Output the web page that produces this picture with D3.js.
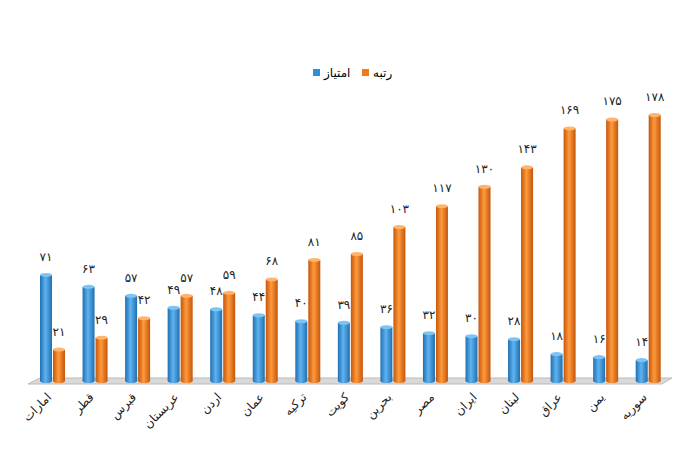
<!DOCTYPE html><html><head><meta charset="utf-8"><script src="https://cdn.jsdelivr.net/npm/d3@7"></script>
<style>body{margin:0;background:#fff}</style></head><body><svg id="c" width="700" height="450"></svg>
<script>
const categories=["امارات","قطر","قبرس","عربستان","اردن","عمان","ترکیه","کویت","بحرین","مصر","ایران","لبنان","عراق","یمن","سوریه"];
const score=[71,63,57,49,48,44,40,39,36,32,30,28,18,16,14];
const rank=[21,29,42,57,59,68,81,85,103,117,130,143,169,175,178];
const seriesNames=["امتیاز","رتبه"];
const fa=n=>String(n).replace(/\d/g,d=>"۰۱۲۳۴۵۶۷۸۹"[d]);
const svg=d3.select("#c");
const defs=svg.append("defs");
[["b","#1f6fb0","#5fb3f0"],["o","#c4560a","#ff9a3c"]].forEach(([id,d,l])=>{
 const g=defs.append("linearGradient").attr("id",id);
 g.append("stop").attr("offset","0").attr("stop-color",d);
 g.append("stop").attr("offset","0.45").attr("stop-color",l);
 g.append("stop").attr("offset","1").attr("stop-color",d);});
const x=d3.scaleBand().domain(categories).range([34,668]).paddingInner(0.1);
const y=d3.scaleLinear().domain([0,178]).range([381,115]);
// floor
svg.append("path").attr("d",`M28,384 L662,384 L672,378 L40,378 Z`).attr("fill","#d9d9d9").attr("stroke","#bbb");
const bw=12;
const draw=(vals,off,grad,top)=>{
 const g=svg.append("g");
 categories.forEach((c,i)=>{
  const cx=x(c)+off, yv=y(vals[i]);
  g.append("rect").attr("x",cx).attr("y",yv).attr("width",bw).attr("height",381-yv).attr("fill",`url(#${grad})`);
  g.append("ellipse").attr("cx",cx+bw/2).attr("cy",381).attr("rx",bw/2).attr("ry",2).attr("fill",`url(#${grad})`);
  g.append("ellipse").attr("cx",cx+bw/2).attr("cy",yv).attr("rx",bw/2).attr("ry",2).attr("fill",top);
  g.append("text").attr("x",cx+bw/2).attr("y",yv-14).attr("text-anchor","middle").attr("font-family","DejaVu Sans").attr("font-size",12).attr("fill","#222").text(fa(vals[i]));
 });};
draw(score,6,"b","#7cc4f5");
draw(rank,19,"o","#ffb36b");
categories.forEach(c=>{
 const cx=x(c)+18;
 svg.append("text").attr("transform",`translate(${cx},398) rotate(-45)`).attr("text-anchor","end").attr("font-family","DejaVu Sans").attr("font-size",12).attr("fill","#222").text(c);
});
// legend
const lg=svg.append("g").attr("font-family","DejaVu Sans").attr("font-size",12);
lg.append("rect").attr("x",313).attr("y",69).attr("width",7).attr("height",7).attr("fill","#2e8fdb");
lg.append("text").attr("x",324).attr("y",77).text(seriesNames[0]);
lg.append("rect").attr("x",362).attr("y",69).attr("width",7).attr("height",7).attr("fill","#f07a1a");
lg.append("text").attr("x",373).attr("y",77).text(seriesNames[1]);
</script></body></html>
